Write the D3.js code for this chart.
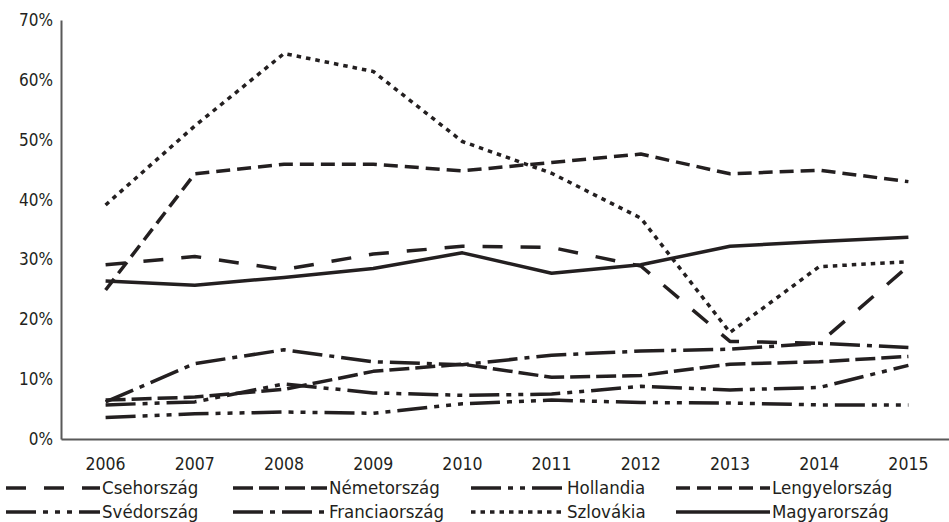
<!DOCTYPE html>
<html>
<head>
<meta charset="utf-8">
<script src="https://cdn.jsdelivr.net/npm/d3@7/dist/d3.min.js"></script>
<style>
  html, body { margin: 0; padding: 0; background: #fff; }
  svg { display: block; }
  text { font-family: "Liberation Sans Narrow", "Arial Narrow", "DejaVu Sans Condensed", sans-serif; fill: #231f20; }
</style>
</head>
<body>
<svg id="chart" width="949" height="522"></svg>
<script>
const years = ["2006","2007","2008","2009","2010","2011","2012","2013","2014","2015"];
const yTicks = [0, 0.1, 0.2, 0.3, 0.4, 0.5, 0.6, 0.7];

const seriesNames = ["Csehország","Németország","Hollandia","Lengyelország","Svédország","Franciaország","Szlovákia","Magyarország"];

const csehorszag    = [29.1, 30.5, 28.3, 30.9, 32.2, 32.0, 28.9, 16.3, 16.0, 28.9];
const nemetorszag   = [6.5, 7.0, 8.3, 11.3, 12.5, 10.3, 10.6, 12.5, 12.9, 13.8];
const hollandia     = [5.7, 6.2, 9.2, 7.7, 7.3, 7.5, 8.8, 8.2, 8.6, 12.3];
const lengyelorszag = [24.9, 44.3, 45.9, 45.9, 44.8, 46.2, 47.6, 44.3, 44.9, 43.0];
const svedorszag    = [3.6, 4.2, 4.5, 4.3, 5.9, 6.5, 6.1, 6.0, 5.7, 5.7];
const franciaorszag = [6.2, 12.6, 14.9, 12.9, 12.4, 14.0, 14.7, 15.0, 16.0, 15.3];
const szlovakia     = [39.1, 52.3, 64.4, 61.4, 49.7, 44.4, 36.9, 17.8, 28.8, 29.6];
const magyarorszag  = [26.4, 25.7, 27.0, 28.5, 31.1, 27.7, 29.1, 32.2, 33.0, 33.7];

const seriesValues = [csehorszag, nemetorszag, hollandia, lengyelorszag, svedorszag, franciaorszag, szlovakia, magyarorszag];

const dashes = {
  "Csehország": "20,18",
  "Németország": "20,6",
  "Hollandia": "30,7,5,7,5,7",
  "Lengyelország": "14,7",
  "Svédország": "30,7,5,7,5,7,5,7",
  "Franciaország": "30,7,5,7",
  "Szlovákia": "4.5,5",
  "Magyarország": null
};

const svg = d3.select("#chart");
const lineColor = "#231f20";
const axisColor = "#595959";

const x = d3.scaleBand().domain(years).range([61, 953]);
const y = d3.scaleLinear().domain([0, 0.7]).range([439, 20]);
const cx = d => x(d) + x.bandwidth() / 2;

// Y axis
const yAxis = svg.append("g").attr("transform", "translate(61,0)")
  .call(d3.axisLeft(y).tickValues(yTicks).tickFormat(d3.format(".0%")).tickSize(0).tickPadding(8));
yAxis.select(".domain").attr("stroke", axisColor).attr("stroke-width", 2);
yAxis.selectAll("text").style("font-size", "17px").attr("fill", lineColor);

// X axis
const xAxis = svg.append("g").attr("transform", "translate(0,439)")
  .call(d3.axisBottom(x).tickSize(0).tickPadding(19));
xAxis.select(".domain").attr("stroke", axisColor).attr("stroke-width", 2);
xAxis.selectAll("text").style("font-size", "17.5px").attr("fill", lineColor);

// Lines
const line = d3.line().x((d, i) => cx(years[i])).y(d => y(d / 100));
seriesNames.forEach((name, k) => {
  svg.append("path")
    .datum(seriesValues[k])
    .attr("d", line)
    .attr("fill", "none")
    .attr("stroke", lineColor)
    .attr("stroke-width", 3.5)
    .attr("stroke-linejoin", "round")
    .attr("stroke-dasharray", dashes[name]);
});

// Legend
const legendTextX = [102, 329, 567, 772];
const legendRowY = [488, 512];
seriesNames.forEach((name, k) => {
  const col = k % 4, row = Math.floor(k / 4);
  const tx = legendTextX[col], ty = legendRowY[row];
  const g = svg.append("g");
  g.append("line")
    .attr("x1", tx - 96).attr("x2", tx - 2)
    .attr("y1", ty).attr("y2", ty)
    .attr("stroke", lineColor).attr("stroke-width", 3.5)
    .attr("stroke-dasharray", dashes[name]);
  g.append("text")
    .attr("x", tx).attr("y", ty)
    .attr("dy", "0.35em")
    .style("font-size", "18.5px")
    .text(name);
});
</script>
</body>
</html>
